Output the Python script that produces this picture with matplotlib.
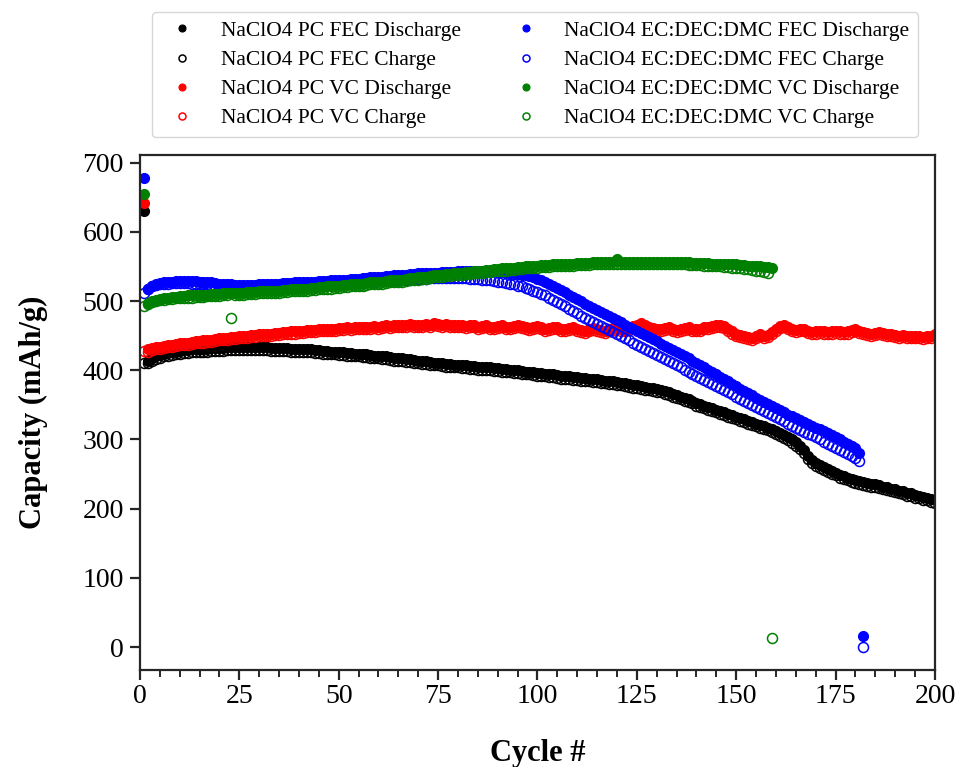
import numpy as np
import matplotlib
matplotlib.use("Agg")
import matplotlib.pyplot as plt

plt.rcParams['font.family'] = ['Liberation Serif', 'DejaVu Serif']

# PC + FEC (NaClO4)
pc_fec_dis = [630,
    413, 417, 420, 422, 424, 425, 426, 427, 428,
    429, 429, 430, 430, 431, 431, 431, 432, 432, 432,
    432, 433, 433, 433, 433, 433, 433, 433, 433, 433,
    433, 433, 432, 432, 432, 432, 432, 431, 431, 431,
    430, 430, 430, 429, 429, 428, 428, 427, 427, 426,
    426, 425, 425, 424, 424, 423, 423, 422, 421, 421,
    420, 420, 419, 418, 418, 417, 416, 416, 415, 414,
    413, 413, 412, 411, 411, 410, 409, 409, 408, 408,
    407, 407, 406, 406, 405, 405, 404, 404, 403, 403,
    402, 402, 401, 400, 400, 399, 398, 398, 397, 396,
    396, 395, 394, 394, 393, 392, 392, 391, 390, 390,
    389, 389, 388, 387, 387, 386, 385, 384, 384, 383,
    382, 381, 380, 379, 378, 377, 376, 375, 374, 373,
    372, 370, 368, 366, 364, 362, 360, 358, 356, 353,
    351, 349, 347, 345, 343, 341, 339, 337, 335, 333,
    331, 329, 327, 325, 323, 321, 319, 317, 315, 312,
    310, 307, 304, 300, 296, 291, 285, 276, 270, 266,
    263, 260, 257, 254, 252, 249, 247, 245, 243, 241,
    240, 238, 237, 236, 235, 234, 232, 231, 229, 228,
    226, 225, 223, 222, 220, 219, 217, 216, 214, 212]
pc_fec_chg = [410,
    410, 413, 416, 418, 420, 421, 422, 423, 424,
    425, 425, 426, 426, 427, 427, 427, 428, 428, 428,
    428, 429, 429, 429, 429, 429, 429, 429, 429, 429,
    429, 429, 428, 428, 428, 428, 428, 427, 427, 427,
    426, 426, 426, 425, 425, 424, 424, 423, 423, 422,
    422, 421, 421, 420, 420, 419, 419, 418, 417, 417,
    416, 416, 415, 414, 414, 413, 412, 412, 411, 410,
    409, 409, 408, 407, 407, 406, 405, 405, 404, 404,
    403, 403, 402, 402, 401, 401, 400, 400, 399, 399,
    398, 398, 397, 396, 396, 395, 394, 394, 393, 392,
    392, 391, 390, 390, 389, 388, 388, 387, 386, 386,
    385, 385, 384, 383, 383, 382, 381, 380, 380, 379,
    378, 377, 376, 375, 374, 373, 372, 371, 370, 369,
    368, 366, 364, 362, 360, 358, 356, 354, 352, 349,
    347, 345, 343, 341, 339, 337, 335, 333, 331, 329,
    327, 325, 323, 321, 319, 317, 315, 313, 311, 308,
    305, 302, 299, 295, 291, 286, 280, 272, 266, 262,
    259, 256, 253, 250, 248, 245, 243, 241, 239, 237,
    236, 234, 233, 232, 231, 230, 228, 227, 225, 224,
    222, 221, 219, 218, 216, 215, 213, 212, 210, 208]

# PC + VC (NaClO4)
pc_vc_dis = [641,
    430, 432, 433, 434, 435, 436, 437, 438, 439,
    440, 440, 441, 442, 442, 443, 444, 444, 445, 446,
    446, 447, 448, 448, 449, 450, 450, 451, 451, 452,
    452, 453, 453, 454, 454, 455, 455, 456, 456, 457,
    457, 458, 458, 458, 459, 459, 460, 460, 460, 461,
    461, 462, 461, 462, 463, 462, 463, 463, 464, 463,
    464, 465, 464, 465, 466, 465, 466, 467, 466, 465,
    466, 467, 466, 468, 467, 466, 467, 466, 465, 466,
    465, 464, 466, 465, 463, 464, 465, 463, 462, 464,
    465, 463, 462, 464, 466, 464, 462, 461, 463, 464,
    462, 460, 461, 463, 462, 460, 459, 461, 462, 460,
    458, 457, 459, 461, 460, 458, 457, 459, 461, 462,
    460, 459, 461, 464, 466, 468, 466, 463, 461, 460,
    459, 461, 462, 460, 458, 459, 461, 462, 460, 459,
    460, 462, 463, 464, 465, 466, 464, 460, 456, 453,
    451, 449, 448, 447, 449, 452, 450, 451, 455, 460,
    464, 465, 463, 460, 458, 459, 460, 457, 455, 456,
    457, 456, 455, 456, 457, 456, 455, 456, 458, 460,
    457, 455, 454, 453, 454, 455, 454, 453, 452, 451,
    450, 451, 450, 449, 450, 449, 448, 449, 450, 452]
pc_vc_chg = [428,
    427, 429, 430, 431, 432, 433, 434, 435, 436,
    437, 437, 438, 439, 439, 440, 441, 441, 442, 443,
    443, 444, 445, 445, 446, 447, 447, 448, 448, 449,
    449, 450, 450, 451, 451, 452, 452, 453, 453, 454,
    454, 455, 455, 455, 456, 456, 457, 457, 457, 458,
    458, 459, 458, 459, 460, 459, 460, 460, 461, 460,
    461, 462, 461, 462, 463, 462, 463, 464, 463, 462,
    463, 464, 463, 465, 464, 463, 464, 463, 462, 463,
    462, 461, 463, 462, 460, 461, 462, 460, 459, 461,
    462, 460, 459, 461, 463, 461, 459, 458, 460, 461,
    459, 457, 458, 460, 459, 457, 456, 458, 459, 457,
    455, 454, 456, 458, 457, 455, 454, 456, 458, 459,
    457, 456, 458, 461, 463, 465, 463, 460, 458, 457,
    456, 458, 459, 457, 455, 456, 458, 459, 457, 456,
    457, 459, 460, 461, 462, 463, 461, 457, 453, 450,
    448, 446, 445, 444, 446, 449, 447, 448, 452, 457,
    461, 462, 460, 457, 455, 456, 457, 454, 452, 453,
    454, 453, 452, 453, 454, 453, 452, 453, 455, 457,
    454, 452, 451, 450, 451, 452, 451, 450, 449, 448,
    447, 448, 447, 446, 447, 446, 445, 446, 447, 449]

# EC:DEC:DMC + FEC
ec_fec_dis = [677,
    518, 522, 524, 526, 527, 528, 528, 529, 529,
    529, 529, 529, 529, 528, 528, 527, 527, 526, 525,
    525, 524, 524, 523, 523, 523, 523, 523, 523, 524,
    524, 524, 525, 525, 525, 526, 526, 526, 527, 527,
    527, 528, 528, 528, 529, 529, 529, 530, 530, 530,
    531, 531, 532, 532, 532, 533, 533, 534, 534, 535,
    535, 536, 536, 537, 537, 538, 538, 539, 539, 540,
    540, 540, 541, 541, 541, 542, 542, 542, 542, 543,
    543, 543, 543, 543, 543, 543, 543, 543, 543, 542,
    542, 542, 541, 540, 539, 538, 537, 536, 534, 532,
    530, 528, 525, 522, 519, 516, 513, 509, 506, 503,
    500, 496, 493, 490, 487, 484, 481, 478, 475, 472,
    469, 466, 463, 460, 457, 454, 451, 448, 445, 442,
    438, 435, 432, 429, 426, 423, 420, 417, 414, 411,
    408, 404, 401, 397, 394, 390, 387, 384, 380, 377,
    373, 370, 367, 364, 360, 357, 354, 351, 348, 345,
    342, 339, 336, 334, 331, 328, 325, 323, 320, 317,
    315, 312, 309, 306, 303, 300, 297, 294, 290, 287,
    281, 16]
ec_fec_chg = [512,
    518, 521, 523, 524, 525, 525, 526, 526, 526,
    526, 526, 525, 525, 525, 524, 524, 523, 522, 522,
    521, 521, 520, 520, 520, 520, 520, 520, 520, 520,
    520, 521, 521, 521, 521, 522, 522, 522, 522, 523,
    523, 523, 523, 524, 524, 524, 525, 525, 525, 525,
    526, 526, 526, 527, 527, 527, 528, 528, 528, 529,
    529, 529, 530, 530, 530, 531, 531, 531, 532, 532,
    532, 532, 533, 533, 533, 533, 533, 533, 533, 533,
    533, 533, 532, 532, 532, 531, 531, 530, 529, 528,
    527, 526, 525, 524, 522, 521, 519, 517, 515, 513,
    510, 508, 505, 502, 499, 496, 493, 489, 486, 482,
    479, 476, 473, 470, 467, 464, 461, 458, 455, 452,
    449, 446, 443, 440, 437, 434, 431, 428, 425, 422,
    419, 416, 413, 410, 407, 404, 401, 398, 395, 392,
    389, 386, 383, 380, 377, 374, 371, 368, 365, 362,
    359, 356, 353, 350, 347, 344, 341, 338, 335, 332,
    329, 326, 323, 320, 317, 314, 311, 308, 306, 303,
    300, 297, 294, 291, 288, 285, 282, 279, 276, 273,
    269, 0]

# EC:DEC:DMC + VC
ec_vc_dis = [654,
    497, 500, 502, 503, 504, 505, 506, 506, 507,
    507, 508, 508, 508, 509, 509, 509, 510, 510, 510,
    511, 511, 511, 512, 512, 512, 513, 513, 513, 514,
    514, 514, 515, 515, 515, 516, 516, 517, 517, 517,
    518, 518, 519, 519, 520, 520, 521, 521, 522, 522,
    523, 523, 524, 524, 525, 525, 526, 527, 527, 528,
    528, 529, 530, 530, 531, 531, 532, 533, 533, 534,
    535, 535, 536, 537, 537, 538, 539, 539, 540, 541,
    541, 542, 542, 543, 544, 544, 545, 545, 546, 546,
    547, 547, 548, 548, 549, 549, 550, 550, 551, 551,
    552, 552, 552, 553, 553, 553, 554, 554, 554, 555,
    555, 555, 555, 556, 556, 556, 556, 557, 557, 560,
    557, 557, 557, 557, 557, 557, 557, 557, 557, 557,
    557, 557, 557, 556, 556, 556, 556, 556, 555, 555,
    555, 555, 555, 554, 554, 554, 554, 553, 553, 553,
    552, 552, 551, 551, 550, 550, 549, 549, 548]
ec_vc_chg = [493,
    495, 498, 500, 501, 502, 503, 503, 504, 504,
    505, 505, 505, 506, 506, 506, 507, 507, 507, 507,
    508, 508, 476, 509, 509, 509, 510, 510, 510, 511,
    511, 511, 512, 512, 512, 513, 513, 514, 514, 514,
    515, 515, 516, 516, 517, 517, 518, 518, 519, 519,
    520, 520, 521, 521, 522, 522, 523, 524, 524, 525,
    525, 526, 527, 527, 528, 528, 529, 530, 530, 531,
    532, 532, 533, 534, 534, 535, 536, 536, 537, 538,
    538, 539, 539, 540, 541, 541, 542, 542, 543, 543,
    544, 544, 545, 545, 546, 546, 547, 547, 548, 548,
    549, 549, 549, 550, 550, 550, 551, 551, 551, 552,
    552, 552, 552, 553, 553, 553, 553, 554, 554, 554,
    554, 554, 554, 554, 554, 554, 554, 554, 554, 554,
    554, 554, 553, 553, 553, 553, 553, 552, 552, 552,
    552, 551, 551, 551, 550, 550, 549, 549, 548, 548,
    547, 546, 546, 545, 544, 543, 542, 541, 13]

series = [
    (pc_fec_dis, 'NaClO4 PC FEC Discharge', 'black', True),
    (pc_fec_chg, 'NaClO4 PC FEC Charge', 'black', False),
    (pc_vc_dis, 'NaClO4 PC VC Discharge', 'red', True),
    (pc_vc_chg, 'NaClO4 PC VC Charge', 'red', False),
    (ec_fec_dis, 'NaClO4 EC:DEC:DMC FEC Discharge', 'blue', True),
    (ec_fec_chg, 'NaClO4 EC:DEC:DMC FEC Charge', 'blue', False),
    (ec_vc_dis, 'NaClO4 EC:DEC:DMC VC Discharge', 'green', True),
    (ec_vc_chg, 'NaClO4 EC:DEC:DMC VC Charge', 'green', False),
]

fig = plt.figure(figsize=(9.58, 7.67), dpi=100)
ax = fig.add_axes([0.146, 0.1265, 0.83, 0.6715])

for vals, lab, col, filled in series:
    cyc = np.arange(1, len(vals) + 1)
    if filled:
        ax.plot(cyc, vals, 'o', ms=7.2, color=col, mec=col, mew=0.8, label=lab)
    else:
        ax.plot(cyc, vals, 'o', ms=7.2, mfc='none', mec=col, mew=1.1, label=lab)

ax.set_xlim(0, 200)
ax.set_ylim(-33, 711)
ax.set_xticks(np.arange(0, 201, 25))
ax.set_xticks(np.arange(0, 201, 5), minor=True)
ax.set_yticks(np.arange(0, 701, 100))

for s in ax.spines.values():
    s.set_linewidth(1.6)
    s.set_color('#262626')
ax.tick_params(which='major', direction='out', length=7, width=1.6,
               color='#262626', labelsize=20, pad=3)
ax.tick_params(which='minor', direction='out', length=5, width=1.4, color='#262626')
ax.tick_params(axis='y', which='major', length=7.5, pad=4)

ax.set_xlabel('Cycle #', fontsize=22, fontweight='bold', labelpad=22)
ax.set_ylabel('Capacity (mAh/g)', fontsize=22, fontweight='bold', labelpad=25)

fig.legend(loc='upper center', bbox_to_anchor=(0.5585, 0.984), ncol=2,
           fontsize=15.5, markerscale=0.7, labelspacing=0.42, borderaxespad=0,
           frameon=True, edgecolor='#cccccc', fancybox=True)

fig.savefig('out.png', dpi=100)
